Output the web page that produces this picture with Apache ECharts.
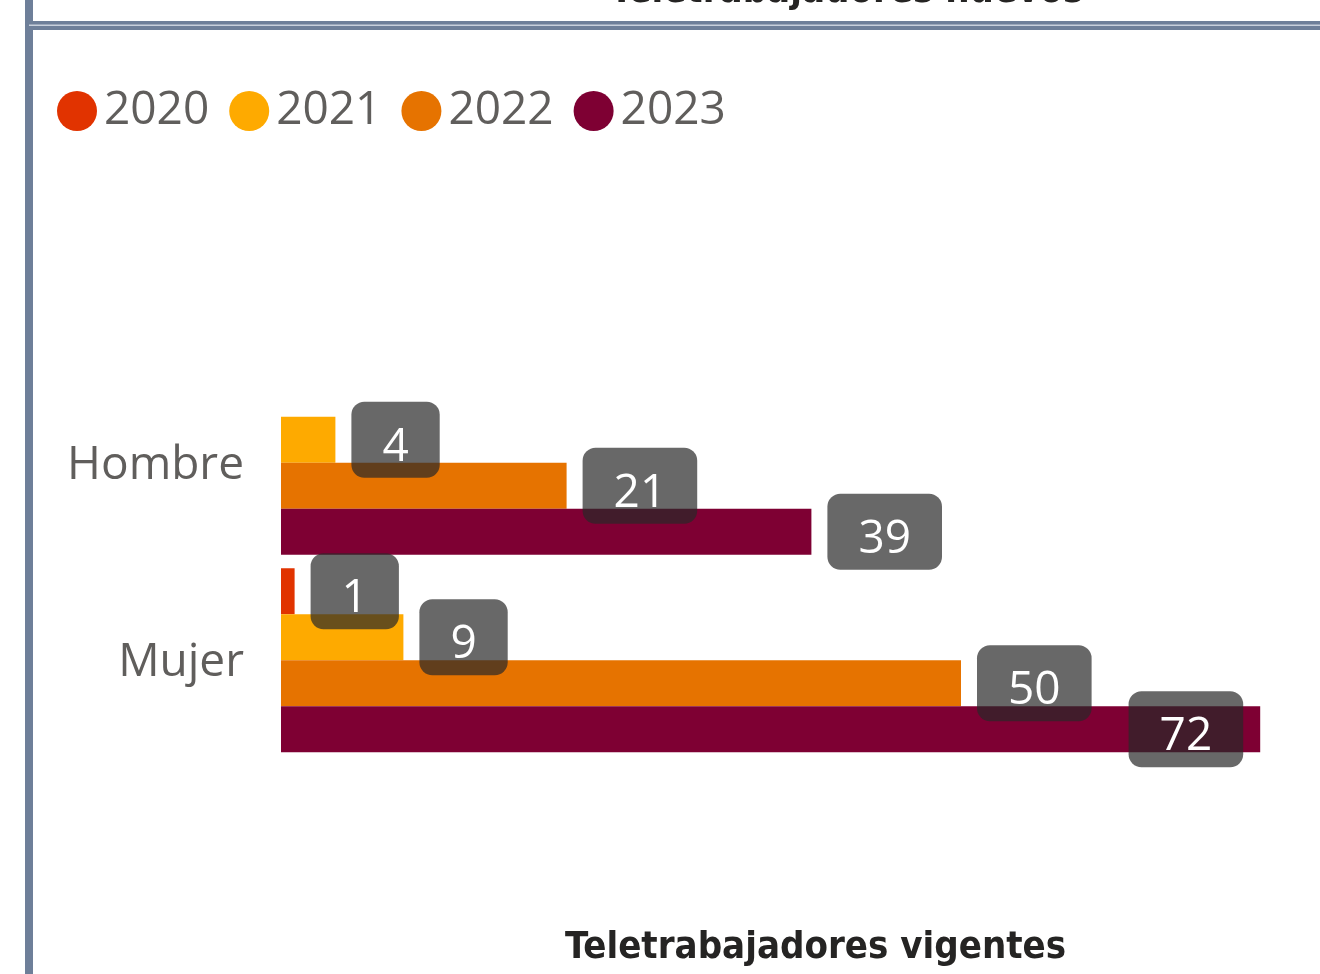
<!DOCTYPE html>
<html>
<head>
<meta charset="utf-8">
<script src="https://cdn.jsdelivr.net/npm/echarts@6/dist/echarts.min.js"></script>
<style>
  html, body { margin: 0; padding: 0; background: #fff; }
  #main { width: 1320px; height: 974px; }
</style>
</head>
<body>
<div id="main"></div>
<script>
// datos
var categorias = ['Hombre', 'Mujer'];
var anios = ['2020', '2021', '2022', '2023'];
var colores = ['#E13300', '#FEAA00', '#E67300', '#7E0033'];
var v2020 = [0, 1];
var v2021 = [4, 9];
var v2022 = [21, 50];
var v2023 = [39, 72];
var valores = [v2020, v2021, v2022, v2023];

var maxX = 75;

var myChart = echarts.init(document.getElementById('main'));

var series = anios.map(function (a, i) {
    return {
        name: a,
        type: 'bar',
        barWidth: 46,
        barGap: '0%',
        itemStyle: { color: colores[i] },
        data: valores[i].map(function (v) {
            if (v === 0) return null;
            // si la etiqueta no cabe, va dentro de la barra
            if (v > maxX - 8) return { value: v, label: { position: 'insideRight', distance: 17 } };
            return v;
        }),
        label: {
            show: true,
            position: 'right',
            distance: 16,
            formatter: '{v|{c}}',
            rich: {
                v: { color: '#fff', fontFamily: 'Open Sans', fontSize: 46, lineHeight: 48 }
            },
            backgroundColor: 'rgba(40,40,40,0.7)',
            borderRadius: 13,
            padding: [22, 31, 6, 31]
        }
    };
});

var option = {
    animation: false,
    legend: {
        left: 52,
        top: 83,
        icon: 'circle',
        itemWidth: 40,
        itemHeight: 40,
        itemGap: 20,
        data: anios,
        textStyle: {
            color: '#605E5C',
            fontFamily: 'Open Sans',
            fontSize: 46,
            padding: [0, 0, 0, 2]
        }
    },
    grid: {
        left: 281,
        top: 364,
        width: 1020,
        height: 395
    },
    xAxis: {
        type: 'value',
        min: 0,
        max: maxX,
        show: false
    },
    yAxis: {
        type: 'category',
        inverse: true,
        data: categorias,
        axisLine: { show: false },
        axisTick: { show: false },
        axisLabel: {
            margin: 37,
            formatter: '{c|{value}}',
            rich: {
                c: { color: '#605E5C', fontFamily: 'Open Sans', fontSize: 46, lineHeight: 50 }
            },
            padding: [6, 0, 0, 0]
        }
    },
    graphic: [
        // marco
        { type: 'rect', shape: { x: 25, y: 0, width: 8, height: 974 }, style: { fill: '#6E7F99' } },
        { type: 'rect', shape: { x: 29, y: 21, width: 1291, height: 9 }, style: { fill: '#6E7F99' } },
        { type: 'rect', shape: { x: 29, y: 24.5, width: 1291, height: 1.5 }, style: { fill: '#C8D0DC' } },
        // titulo cortado arriba
        {
            type: 'text', left: 610, top: -27,
            style: { text: 'Teletrabajadores nuevos', fill: '#252423', font: 'bold 38px "DejaVu Sans Condensed"' }
        },
        {
            type: 'text', left: 565, top: 929,
            style: { text: 'Teletrabajadores vigentes', fill: '#252423', font: 'bold 38px "DejaVu Sans Condensed"' }
        }
    ],
    series: series
};

myChart.setOption(option);
</script>
</body>
</html>
